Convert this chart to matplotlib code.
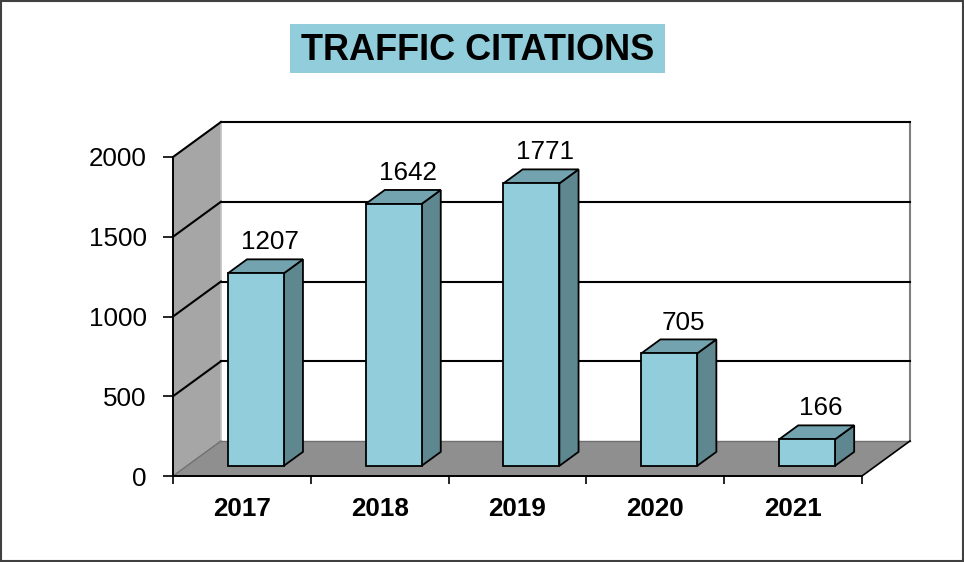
import matplotlib.pyplot as plt
from matplotlib.patches import Polygon, Rectangle

plt.rcParams['font.family'] = ['Liberation Sans', 'DejaVu Sans']

years = ['2017', '2018', '2019', '2020', '2021']
citations = [1207, 1642, 1771, 705, 166]
y_ticks = [0, 500, 1000, 1500, 2000]

# oblique depth offset of the floor/walls (category units, value units)
DX = 0.348
DY = 219.4
BAR_W = 0.406
F0, F1 = 0.29, 0.69  # bar front / back depth fraction

FRONT = '#92cddc'
SIDE = '#5e8790'
TOP = '#72a3ae'


def proj(u, v, f):
    return (u + f * DX, v + f * DY)


def poly(ax, pts, fc, ec='black', lw=1.3, z=1):
    ax.add_patch(Polygon(pts, closed=True, facecolor=fc, edgecolor=ec,
                         linewidth=lw, clip_on=False, zorder=z))


fig = plt.figure(figsize=(9.64, 5.62), dpi=100)
ax = fig.add_axes([173 / 964, 86 / 562, 689 / 964, 319 / 562])
ax.set_xlim(0, len(years))
ax.set_ylim(0, 2000)
ax.patch.set_visible(False)

n = len(years)
vmax = y_ticks[-1]

# back wall, floor, side wall
poly(ax, [proj(0, 0, 1), proj(n, 0, 1), proj(n, vmax, 1), proj(0, vmax, 1)],
     'white', ec='none', z=0.5)
poly(ax, [proj(0, 0, 0), proj(n, 0, 0), proj(n, 0, 1), proj(0, 0, 1)],
     '#8f8f8f', ec='none', z=0.6)
poly(ax, [proj(0, 0, 0), proj(0, 0, 1), proj(0, vmax, 1), proj(0, vmax, 0)],
     '#a6a6a6', ec='none', z=0.6)

# wall edges
ax.plot(*zip(proj(n, 0, 1), proj(n, vmax, 1)), color='#808080', lw=1.5,
        clip_on=False, zorder=0.8)
ax.plot(*zip(proj(0, 0, 1), proj(0, vmax, 1)), color='#c0c0c0', lw=1.2,
        clip_on=False, zorder=0.8)
ax.plot(*zip(proj(0, 0, 1), proj(n, 0, 1)), color='#707070', lw=1.0,
        clip_on=False, zorder=0.8)
ax.plot(*zip(proj(0, 0, 0), proj(0, 0, 1)), color='#707070', lw=1.0,
        clip_on=False, zorder=0.8)
ax.plot(*zip(proj(n, 0, 0), proj(n, 0, 1)), color='black', lw=1.2,
        clip_on=False, zorder=0.8)

# gridlines on back wall and side wall
for t in y_ticks[1:]:
    ax.plot(*zip(proj(0, t, 1), proj(n, t, 1)), color='black', lw=1.5,
            clip_on=False, zorder=0.9)
    ax.plot(*zip(proj(0, t, 0), proj(0, t, 1)), color='black', lw=1.5,
            clip_on=False, zorder=0.9)

# bars
for i, v in enumerate(citations):
    x0 = i + 0.5 - BAR_W / 2
    x1 = i + 0.5 + BAR_W / 2
    poly(ax, [proj(x1, 0, F0), proj(x1, 0, F1), proj(x1, v, F1), proj(x1, v, F0)],
         SIDE, z=2)
    poly(ax, [proj(x0, v, F0), proj(x1, v, F0), proj(x1, v, F1), proj(x0, v, F1)],
         TOP, z=2)
    poly(ax, [proj(x0, 0, F0), proj(x1, 0, F0), proj(x1, v, F0), proj(x0, v, F0)],
         FRONT, z=2.1)
    ax.text(i + 0.5 + 0.58 * DX, v + F1 * DY + 62, str(v), ha='center',
            va='baseline', fontsize=18.7, color='black', zorder=3)

# axes styling
for s in ['top', 'right']:
    ax.spines[s].set_visible(False)
for s in ['left', 'bottom']:
    ax.spines[s].set_color('black')
    ax.spines[s].set_linewidth(1.4)
    ax.spines[s].set_zorder(1.5)

ax.set_yticks(y_ticks)
ax.set_yticklabels([str(t) for t in y_ticks])
ax.tick_params(axis='y', direction='out', length=7, width=1.2, pad=12,
               labelsize=18.7, colors='black')

ax.set_xticks(range(n + 1))
ax.set_xticklabels([])
ax.tick_params(axis='x', which='major', direction='out', length=6, width=1.2)
ax.set_xticks([i + 0.5 for i in range(n)], minor=True)
ax.set_xticklabels(years, minor=True, fontsize=18.7, fontweight='bold')
ax.tick_params(axis='x', which='minor', length=0, pad=15)

# title box
fig.add_artist(Rectangle((290 / 964, 1 - 73 / 562), 375 / 964, 49 / 562,
                         transform=fig.transFigure, facecolor=FRONT,
                         edgecolor='none'))
fig.text(477.5 / 964, 1 - 60.5 / 562, 'TRAFFIC CITATIONS', ha='center',
         va='baseline', fontsize=26, fontweight='bold')

# outer border
fig.add_artist(Rectangle((0.001, 0.002), 0.998, 0.996, transform=fig.transFigure,
                         fill=False, edgecolor='#404040', linewidth=1.5))

fig.savefig('out.png', dpi=100)
